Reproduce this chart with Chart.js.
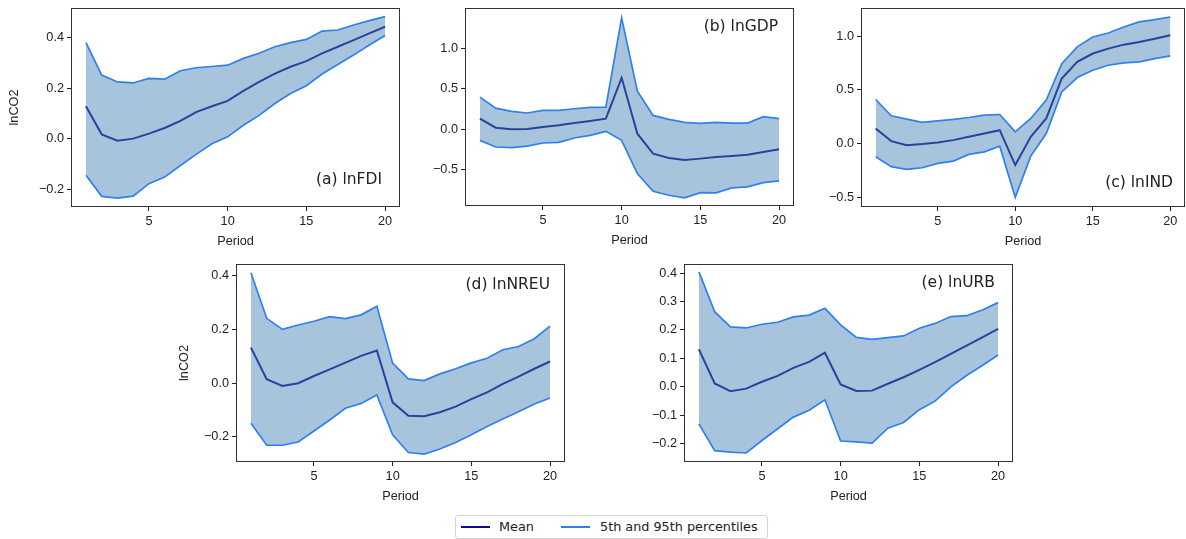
<!DOCTYPE html>
<html>
<head>
<meta charset="utf-8">
<script src="https://cdn.jsdelivr.net/npm/chart.js@4.4.1/dist/chart.umd.min.js"></script>
<style>
  body { margin: 0; background: #fff; }
  #wrap { position: relative; width: 1186px; height: 539px; overflow: hidden; font-family: 'DejaVu Sans', sans-serif; }
  canvas { position: absolute; }
  #legend { position: absolute; left: 455px; top: 515px; width: 311px; height: 22px; border: 1px solid #d4d4d4; border-radius: 3px; font-size: 12.8px; color: #222; }
  #legend .sw { position: absolute; top: 10px; height: 2px; width: 29px; }
  #legend .tx { position: absolute; top: 3px; white-space: nowrap; }
</style>
</head>
<body>
<div id="wrap">
  <div id="legend">
    <span class="sw" style="left:5px;background:#0c0c8a"></span><span class="tx" style="left:43px">Mean</span>
    <span class="sw" style="left:105px;background:#2f80ea"></span><span class="tx" style="left:144px">5th and 95th percentiles</span>
  </div>
</div>
<script>
const periods = [1, 2, 3, 4, 5, 6, 7, 8, 9, 10, 11, 12, 13, 14, 15, 16, 17, 18, 19, 20];
const xTicks = [5, 10, 15, 20];

// (a) lnFDI
const meanA  = [0.128, 0.017, -0.008, 0.0, 0.02, 0.042, 0.07, 0.105, 0.128, 0.149, 0.189, 0.224, 0.257, 0.284, 0.306, 0.337, 0.363, 0.389, 0.416, 0.442];
const upperA = [0.379, 0.251, 0.224, 0.220, 0.238, 0.235, 0.268, 0.28, 0.285, 0.29, 0.317, 0.337, 0.363, 0.379, 0.392, 0.425, 0.429, 0.449, 0.466, 0.482];
const lowerA = [-0.145, -0.228, -0.235, -0.227, -0.178, -0.152, -0.106, -0.062, -0.02, 0.007, 0.053, 0.092, 0.139, 0.178, 0.209, 0.255, 0.293, 0.33, 0.37, 0.407];
const yTicksA = [-0.2, 0.0, 0.2, 0.4];

// (b) lnGDP
const meanB  = [0.129, 0.017, -0.004, 0.0, 0.025, 0.046, 0.075, 0.1, 0.129, 0.639, -0.058, -0.307, -0.361, -0.386, -0.369, -0.349, -0.336, -0.32, -0.286, -0.253];
const upperB = [0.398, 0.261, 0.22, 0.2, 0.232, 0.232, 0.253, 0.27, 0.274, 1.386, 0.473, 0.17, 0.12, 0.083, 0.071, 0.083, 0.075, 0.075, 0.154, 0.129];
const lowerB = [-0.141, -0.224, -0.232, -0.212, -0.174, -0.166, -0.112, -0.079, -0.029, -0.141, -0.556, -0.776, -0.826, -0.859, -0.793, -0.797, -0.734, -0.722, -0.668, -0.647];
const yTicksB = [-0.5, 0.0, 0.5, 1.0];

// (c) lnIND
const meanC  = [0.14, 0.022, -0.016, -0.006, 0.009, 0.031, 0.062, 0.093, 0.124, -0.202, 0.062, 0.233, 0.606, 0.761, 0.839, 0.885, 0.922, 0.947, 0.978, 1.009];
const upperC = [0.41, 0.258, 0.227, 0.196, 0.211, 0.224, 0.242, 0.264, 0.27, 0.109, 0.233, 0.404, 0.745, 0.901, 0.994, 1.031, 1.087, 1.134, 1.155, 1.18];
const lowerC = [-0.124, -0.217, -0.242, -0.227, -0.186, -0.165, -0.102, -0.078, -0.025, -0.503, -0.118, 0.093, 0.481, 0.615, 0.683, 0.73, 0.752, 0.761, 0.792, 0.817];
const yTicksC = [-0.5, 0.0, 0.5, 1.0];

// (d) lnNREU
const meanD  = [0.133, 0.015, -0.01, 0.0, 0.027, 0.052, 0.077, 0.102, 0.122, -0.071, -0.121, -0.123, -0.108, -0.087, -0.059, -0.034, -0.002, 0.025, 0.054, 0.081];
const upperD = [0.412, 0.242, 0.201, 0.217, 0.231, 0.248, 0.241, 0.255, 0.287, 0.075, 0.016, 0.01, 0.035, 0.054, 0.076, 0.093, 0.125, 0.137, 0.166, 0.213];
const lowerD = [-0.149, -0.231, -0.231, -0.219, -0.178, -0.137, -0.093, -0.075, -0.044, -0.192, -0.258, -0.264, -0.245, -0.221, -0.192, -0.161, -0.133, -0.106, -0.077, -0.055];
const yTicksD = [-0.2, 0.0, 0.2, 0.4];

// (e) lnURB
const meanE  = [0.132, 0.012, -0.015, -0.006, 0.018, 0.039, 0.067, 0.088, 0.12, 0.009, -0.014, -0.013, 0.011, 0.034, 0.06, 0.087, 0.116, 0.145, 0.174, 0.204];
const upperE = [0.404, 0.264, 0.211, 0.207, 0.22, 0.227, 0.246, 0.252, 0.276, 0.218, 0.174, 0.167, 0.173, 0.179, 0.206, 0.223, 0.247, 0.25, 0.27, 0.296];
const lowerE = [-0.13, -0.224, -0.229, -0.232, -0.188, -0.147, -0.106, -0.082, -0.045, -0.19, -0.193, -0.197, -0.145, -0.125, -0.08, -0.05, 0.0, 0.04, 0.075, 0.112];
const yTicksE = [-0.2, -0.1, 0.0, 0.1, 0.2, 0.3, 0.4];

const meanColor = '#0c0c8a';
const bandLine = '#2f80ea';
const bandFill = 'rgba(70, 130, 180, 0.47)';
const ink = '#222';

// canvas box, y-axis width and where the label sits, per panel
const panels = [
  { title: '(a) lnFDI',  mean: meanA, upper: upperA, lower: lowerA, yTicks: yTicksA, ymin: -0.27,  ymax: 0.516,
    left: 0,   top: 0,   w: 405, h: 251, padTop: 8, padRight: 5, yw: 71, ytitle: true, lab: 'br', lx: 18, ly: 27 },
  { title: '(b) lnGDP',  mean: meanB, upper: upperB, lower: lowerB, yTicks: yTicksB, ymin: -0.96,  ymax: 1.51,
    left: 420, top: 0,   w: 380, h: 250, padTop: 8, padRight: 6, yw: 45, ytitle: false, lab: 'tr', lx: 16, ly: 19 },
  { title: '(c) lnIND',  mean: meanC, upper: upperC, lower: lowerC, yTicks: yTicksC, ymin: -0.593, ymax: 1.264,
    left: 815, top: 0,   w: 371, h: 251, padTop: 8, padRight: 1, yw: 46, ytitle: false, lab: 'br', lx: 12, ly: 24 },
  { title: '(d) lnNREU', mean: meanD, upper: upperD, lower: lowerD, yTicks: yTicksD, ymin: -0.2935, ymax: 0.4445,
    left: 170, top: 256, w: 400, h: 250, padTop: 8, padRight: 5, yw: 66, ytitle: true, lab: 'tr', lx: 15, ly: 21 },
  { title: '(e) lnURB',  mean: meanE, upper: upperE, lower: lowerE, yTicks: yTicksE, ymin: -0.2636, ymax: 0.4316,
    left: 630, top: 256, w: 388, h: 250, padTop: 8, padRight: 5, yw: 54, ytitle: false, lab: 'tr', lx: 18, ly: 19 }
];

const fmt = v => (v < 0 ? '\u2212' : '') + Math.abs(v).toFixed(1);
const toPoints = ys => periods.map((p, i) => ({ x: p, y: ys[i] }));

const framePlugin = {
  id: 'frame',
  afterDraw(chart, args, opts) {
    const { ctx, chartArea: a } = chart;
    ctx.save();
    ctx.strokeStyle = '#333';
    ctx.lineWidth = 1;
    ctx.strokeRect(Math.round(a.left) + 0.5, Math.round(a.top) + 0.5, Math.round(a.right - a.left) - 1, Math.round(a.bottom - a.top) - 1);
    ctx.font = '15.5px "DejaVu Sans"';
    ctx.fillStyle = ink;
    ctx.textAlign = 'right';
    ctx.textBaseline = 'middle';
    const y = opts.corner === 'br' ? a.bottom - opts.dy : a.top + opts.dy;
    ctx.fillText(opts.text, a.right - opts.dx, y);
    ctx.restore();
  }
};

function makePanel(cfg) {
  const canvas = document.createElement('canvas');
  canvas.width = cfg.w;
  canvas.height = cfg.h;
  canvas.style.left = cfg.left + 'px';
  canvas.style.top = cfg.top + 'px';
  document.getElementById('wrap').appendChild(canvas);

  new Chart(canvas, {
    type: 'line',
    data: {
      datasets: [
        { label: '5th', data: toPoints(cfg.lower), borderColor: bandLine, borderWidth: 1.7, pointRadius: 0, tension: 0, fill: false },
        { label: '95th', data: toPoints(cfg.upper), borderColor: bandLine, borderWidth: 1.7, pointRadius: 0, tension: 0, fill: '-1', backgroundColor: bandFill },
        { label: 'Mean', data: toPoints(cfg.mean), borderColor: meanColor, borderWidth: 2, pointRadius: 0, tension: 0, fill: false }
      ]
    },
    plugins: [framePlugin],
    options: {
      responsive: false,
      animation: false,
      devicePixelRatio: 1,
      layout: { padding: { top: cfg.padTop, right: cfg.padRight, left: 0, bottom: 0 } },
      plugins: {
        legend: { display: false },
        tooltip: { enabled: false },
        frame: { text: cfg.title, corner: cfg.lab, dx: cfg.lx, dy: cfg.ly }
      },
      scales: {
        x: {
          type: 'linear', min: 0.05, max: 20.95,
          afterBuildTicks: s => { s.ticks = xTicks.map(v => ({ value: v })); },
          afterFit: s => { s.height = 44; s.paddingLeft = 0; s.paddingRight = 0; },
          grid: { drawOnChartArea: false, tickLength: 4, color: ink },
          border: { display: false },
          ticks: { padding: 3, color: ink, font: { size: 12.7 }, maxRotation: 0, autoSkip: false, callback: v => String(v) },
          title: { display: true, text: 'Period', color: ink, font: { size: 12.7 }, padding: { top: 0, bottom: 2 } }
        },
        y: {
          min: cfg.ymin, max: cfg.ymax,
          afterBuildTicks: s => { s.ticks = cfg.yTicks.map(v => ({ value: v })); },
          afterFit: s => { s.width = cfg.yw; s.paddingTop = 0; s.paddingBottom = 0; },
          grid: { drawOnChartArea: false, tickLength: 4, color: ink },
          border: { display: false },
          ticks: { padding: 3, color: ink, font: { size: 12.7 }, autoSkip: false, callback: v => fmt(v) },
          title: { display: cfg.ytitle, text: 'lnCO2', color: ink, font: { size: 12.7 }, padding: { top: 6.5, bottom: 0 } }
        }
      }
    }
  });
}

panels.forEach(makePanel);
</script>
</body>
</html>
